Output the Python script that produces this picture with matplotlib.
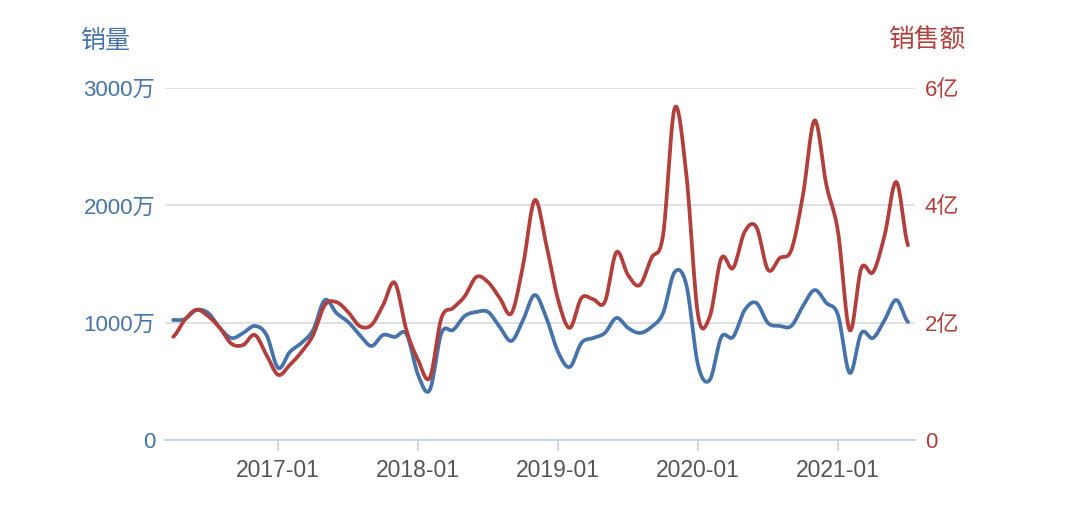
import matplotlib
matplotlib.use('Agg')
import matplotlib.pyplot as plt
import numpy as np

plt.rcParams['font.family'] = ['Liberation Sans', 'Noto Sans CJK SC', 'DejaVu Sans']

# monthly data, 2016-04 .. 2021-07
volume = [1023, 1031, 1108, 1082, 955, 869, 912, 972, 895, 614,
          750, 827, 938, 1193, 1082, 1006, 895, 801, 895, 878,
          903, 554, 426, 912, 938, 1057, 1091, 1091, 963, 844,
          1023, 1236, 1040, 750, 622, 827, 869, 912, 1040, 955,
          912, 963, 1082, 1432, 1321, 639, 511, 878, 878, 1108,
          1168, 997, 972, 972, 1142, 1278, 1168, 1065, 571, 912,
          869, 1023, 1193, 1006]  # 万
sales = [1.76, 2.05, 2.22, 2.11, 1.91, 1.64, 1.62, 1.79, 1.45, 1.11,
         1.28, 1.50, 1.79, 2.30, 2.35, 2.18, 1.94, 1.96, 2.30, 2.68,
         1.87, 1.36, 1.06, 2.08, 2.25, 2.45, 2.78, 2.69, 2.42, 2.16,
         2.98, 4.09, 3.32, 2.39, 1.91, 2.42, 2.40, 2.35, 3.20, 2.81,
         2.64, 3.10, 3.49, 5.66, 4.52, 2.13, 2.10, 3.10, 2.93, 3.55,
         3.63, 2.90, 3.10, 3.24, 4.18, 5.45, 4.35, 3.55, 1.87, 2.93,
         2.86, 3.49, 4.40, 3.32]  # 亿
xtick_pos = [9, 21, 33, 45, 57]
xtick_labels = ['2017-01', '2018-01', '2019-01', '2020-01', '2021-01']

blue = '#4673aa'
red = '#b1403d'


def smooth(y, n=12):
    # catmull-rom spline through the points, for a smooth drawn line
    y = np.asarray(y, float)
    p = np.concatenate([[y[0]], y, [y[-1]]])
    xs, ys = [], []
    for i in range(len(y) - 1):
        p0, p1, p2, p3 = p[i], p[i + 1], p[i + 2], p[i + 3]
        t = np.linspace(0, 1, n, endpoint=False)
        v = 0.5 * ((2 * p1) + (-p0 + p2) * t + (2 * p0 - 5 * p1 + 4 * p2 - p3) * t ** 2
                   + (-p0 + 3 * p1 - 3 * p2 + p3) * t ** 3)
        xs.append(i + t)
        ys.append(v)
    xs.append([len(y) - 1])
    ys.append([y[-1]])
    return np.concatenate(xs), np.concatenate(ys)


fig = plt.figure(figsize=(10.8, 5.14), dpi=100)
ax = fig.add_axes([0.1528, 0.144, 0.6944, 0.6848])
ax2 = ax.twinx()

x1, y1 = smooth(volume)
x2, y2 = smooth(sales)
ax.plot(x1, y1, color=blue, lw=2.7, solid_capstyle='round', zorder=3)
ax2.plot(x2, y2, color=red, lw=2.7, solid_capstyle='round', zorder=3)

ax.set_xlim(-0.7, 63.6)
ax.set_ylim(0, 3000)
ax2.set_ylim(0, 6)
ax.set_yticks([0, 1000, 2000, 3000])
ax.set_yticklabels(['0', '1000万', '2000万', '3000万'])
ax2.set_yticks([0, 2, 4, 6])
ax2.set_yticklabels(['0', '2亿', '4亿', '6亿'])
ax.set_xticks(xtick_pos)
ax.set_xticklabels(xtick_labels)

ax.grid(axis='y', color='#dcdcdc', lw=1.3)
ax.set_axisbelow(True)
for a in (ax, ax2):
    for s in a.spines.values():
        s.set_visible(False)
ax.spines['bottom'].set_visible(True)
ax.spines['bottom'].set_color('#c5d2e2')
ax.spines['bottom'].set_linewidth(1.3)

ax.tick_params(axis='y', length=0, pad=7, labelsize=16, labelcolor=blue)
ax2.tick_params(axis='y', length=0, pad=7, labelsize=16, labelcolor=red)
ax.tick_params(axis='x', length=8, width=1.2, color='#c5d2e2', pad=6,
               labelsize=16.5, labelcolor='#555555')

fig.text(0.074, 0.92, '销量', color=blue, fontsize=18, va='center')
fig.text(0.894, 0.92, '销售额', color=red, fontsize=18.5, va='center', ha='right')

fig.savefig('out.png', dpi=100)
